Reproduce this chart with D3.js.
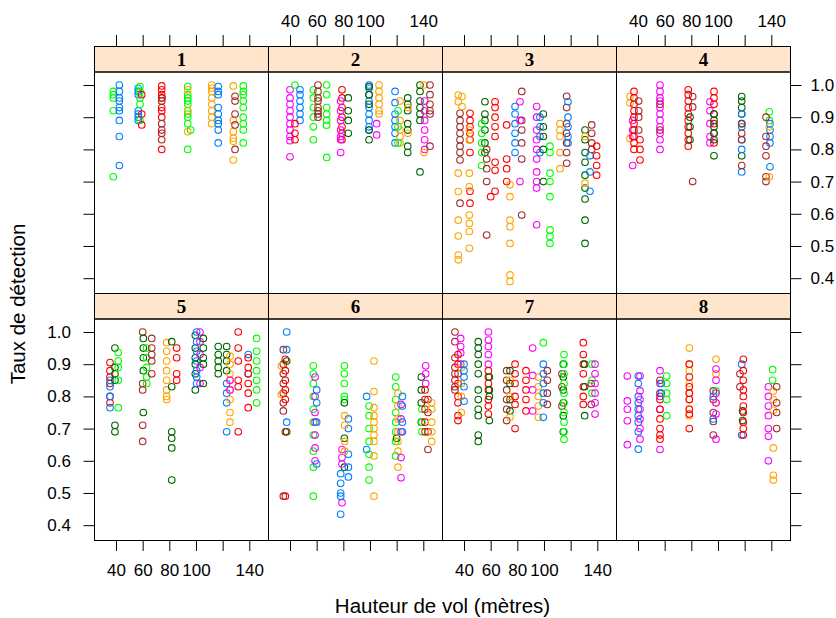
<!DOCTYPE html>
<html>
<head>
<meta charset="utf-8">
<script src="https://cdnjs.cloudflare.com/ajax/libs/d3/7.8.5/d3.min.js"></script>
<style>
body { margin: 0; background: #fff; }
svg { display: block; }
text { font-family: "Liberation Sans", Arial, sans-serif; }
</style>
</head>
<body>
<div id="chart"></div>
<script>
// group index -> colour (lattice superpose.symbol)
var B = 0, M = 1, DG = 2, R = 3, O = 4, G = 5, BR = 6;
var groupColors = ["#0080ff", "#ff00ff", "#006400", "#ff0000", "#ffa500", "#00ff00", "#a52a2a"];

var panelNames = ["1", "2", "3", "4", "5", "6", "7", "8"];
var xTicks = [40, 60, 80, 100, 120, 140];
var xTickLabels = ["40", "60", "80", "100", "", "140"];
var yTicks = [0.4, 0.5, 0.6, 0.7, 0.8, 0.9, 1.0];
var xTitle = "Hauteur de vol (mètres)";
var yTitle = "Taux de détection";

// each series: [hauteur, groupe, [taux...]]
var panel1 = [
  [38, G, [0.98, 0.97, 0.96, 0.92, 0.715]],
  [42.5, B, [1.0, 0.98, 0.96, 0.95, 0.93, 0.92, 0.89, 0.84, 0.75]],
  [56.7, B, [0.99, 0.98, 0.97, 0.92, 0.91, 0.90, 0.89]],
  [58, G, [0.995, 0.98, 0.96, 0.94, 0.89]],
  [59.3, R, [0.97, 0.91, 0.876]],
  [74.3, R, [0.997, 0.985, 0.97, 0.96, 0.93, 0.92, 0.90, 0.85, 0.80]],
  [74.3, BR, [0.96, 0.95, 0.88, 0.86, 0.83]],
  [93.8, G, [0.995, 0.97, 0.96, 0.95, 0.94, 0.92, 0.91, 0.90, 0.88, 0.80]],
  [93.8, O, [0.985, 0.92, 0.855]],
  [96, G, [0.86]],
  [111.8, O, [1.0, 0.99, 0.98, 0.96, 0.94, 0.92, 0.90, 0.88]],
  [116.7, B, [0.995, 0.98, 0.97, 0.93, 0.91, 0.89, 0.88, 0.86, 0.82]],
  [128, O, [0.997, 0.89, 0.855, 0.835, 0.825, 0.767]],
  [129.3, BR, [0.965, 0.95, 0.91, 0.876, 0.80]],
  [135.5, G, [0.997, 0.98, 0.97, 0.95, 0.93, 0.90, 0.88, 0.86, 0.82]]
];

var panel2 = [
  [40, M, [0.985, 0.96, 0.94, 0.92, 0.90, 0.88, 0.86, 0.84, 0.827, 0.777]],
  [43.7, G, [1.0]],
  [47.5, B, [0.985, 0.97, 0.95, 0.93, 0.91, 0.89]],
  [43.7, R, [0.88, 0.85, 0.83]],
  [57.5, G, [0.985, 0.96, 0.93, 0.90, 0.87, 0.83]],
  [61, BR, [1.0, 0.98, 0.96, 0.95, 0.93, 0.92, 0.91, 0.90]],
  [67.5, G, [1.0, 0.97, 0.93, 0.91, 0.89, 0.875, 0.775]],
  [79, R, [0.985, 0.96, 0.93, 0.90, 0.87, 0.85, 0.83]],
  [78, M, [0.95, 0.92, 0.89, 0.86, 0.84, 0.83, 0.79]],
  [83.7, DG, [0.96, 0.92, 0.89, 0.85]],
  [99.3, B, [1.0, 0.99, 0.97, 0.95, 0.93, 0.91, 0.89, 0.87, 0.86]],
  [99.3, DG, [0.995, 0.97, 0.94, 0.86, 0.83]],
  [106.8, O, [1.0, 0.98, 0.96, 0.94, 0.92, 0.91]],
  [105, M, [0.88, 0.845]],
  [118.8, B, [0.98, 0.945, 0.91, 0.89, 0.87, 0.85, 0.82]],
  [122.5, O, [0.95, 0.89, 0.86, 0.84, 0.82]],
  [121, G, [0.92, 0.87, 0.82]],
  [128.3, DG, [0.96, 0.94, 0.92, 0.88, 0.86, 0.81, 0.79]],
  [128.5, O, [0.93, 0.85]],
  [137.5, DG, [1.0, 0.98, 0.95, 0.93, 0.91, 0.89, 0.73]],
  [141, M, [0.95, 0.92, 0.89, 0.86, 0.83, 0.80]],
  [140.5, O, [1.0, 0.79]],
  [145, BR, [1.0, 0.97, 0.94, 0.92, 0.91, 0.81]]
];

var panel3 = [
  [35.7, O, [0.969, 0.948, 0.726, 0.669, 0.58, 0.531, 0.472, 0.457]],
  [37, BR, [0.912, 0.89, 0.87, 0.85, 0.83, 0.81, 0.79, 0.767, 0.633]],
  [38.5, O, [0.964, 0.933]],
  [44.5, R, [0.912, 0.89, 0.87, 0.85, 0.83, 0.79, 0.67, 0.633]],
  [44, O, [0.86, 0.829, 0.726, 0.684, 0.596, 0.57, 0.545, 0.493]],
  [55.7, DG, [0.948, 0.91, 0.89, 0.86, 0.82, 0.79]],
  [53.3, G, [0.88, 0.85, 0.82, 0.79, 0.75]],
  [57, BR, [0.80, 0.77, 0.74, 0.70, 0.534]],
  [63.3, R, [0.948, 0.93, 0.90, 0.87, 0.84, 0.76, 0.735, 0.67]],
  [60, R, [0.653]],
  [72, R, [0.876, 0.77, 0.74, 0.70]],
  [74.5, O, [0.69, 0.653, 0.58, 0.56, 0.508, 0.41, 0.39]],
  [78.3, B, [0.933, 0.91, 0.88, 0.85, 0.82, 0.79]],
  [83.3, BR, [0.98, 0.89, 0.86, 0.82, 0.77, 0.596]],
  [82, M, [0.948, 0.89, 0.70]],
  [94.5, M, [0.933, 0.90, 0.86, 0.83, 0.80, 0.77, 0.73, 0.70, 0.68, 0.566]],
  [97, B, [0.90, 0.87, 0.84, 0.79]],
  [99.5, DG, [0.91, 0.87, 0.84, 0.80, 0.70]],
  [104.5, G, [0.81, 0.79, 0.726, 0.70, 0.653, 0.55, 0.53, 0.508]],
  [112, O, [0.88, 0.86, 0.84, 0.79, 0.74]],
  [117, BR, [0.965, 0.93, 0.88, 0.85, 0.82, 0.79, 0.757]],
  [118, B, [0.948, 0.90, 0.87, 0.84, 0.82]],
  [130.8, DG, [0.86, 0.83, 0.79, 0.76, 0.72, 0.68, 0.646, 0.58, 0.508]],
  [130.8, O, [0.84, 0.695]],
  [135.8, BR, [0.876, 0.85, 0.82, 0.80]],
  [134.5, B, [0.78, 0.73, 0.67]],
  [139.5, R, [0.81, 0.78, 0.75, 0.72]]
];

var panel4 = [
  [34, O, [0.964, 0.944, 0.834]],
  [36, M, [0.89, 0.86, 0.84, 0.75]],
  [37, R, [0.98, 0.96, 0.94, 0.92, 0.90, 0.88, 0.86, 0.84, 0.82, 0.80]],
  [41.5, R, [0.83, 0.80, 0.767]],
  [40.5, BR, [0.95, 0.92, 0.90, 0.86]],
  [56.5, M, [1.0, 0.98, 0.96, 0.95, 0.93, 0.91, 0.89, 0.87, 0.85, 0.83, 0.80]],
  [56.5, BR, [0.94, 0.86]],
  [77.7, R, [0.985, 0.97, 0.95, 0.93, 0.91, 0.89, 0.87, 0.85, 0.83, 0.81]],
  [79, DG, [0.90, 0.87, 0.83]],
  [81, BR, [0.964, 0.932, 0.70]],
  [94, M, [0.948, 0.92, 0.88, 0.84, 0.82]],
  [97, R, [0.98, 0.96, 0.94, 0.91, 0.88, 0.85, 0.82]],
  [97, DG, [0.91, 0.89, 0.87, 0.85, 0.83, 0.78]],
  [117.8, DG, [0.964, 0.95, 0.93, 0.91, 0.88, 0.78]],
  [117.8, B, [0.91, 0.87, 0.83, 0.80, 0.73]],
  [117.8, BR, [0.88, 0.85, 0.83, 0.75]],
  [138.5, G, [0.917, 0.89]],
  [139, B, [0.88, 0.86, 0.84, 0.82, 0.746]],
  [136, BR, [0.90, 0.84, 0.81, 0.78, 0.715, 0.70]],
  [138.5, O, [0.87, 0.715]]
];

var panel5 = [
  [35.5, R, [0.905, 0.88, 0.86, 0.84, 0.80, 0.78]],
  [35.5, B, [0.85, 0.83, 0.80, 0.765]],
  [39.2, DG, [0.95, 0.89, 0.87, 0.85, 0.71, 0.69]],
  [41.7, G, [0.936, 0.91, 0.89, 0.85, 0.765]],
  [60, BR, [1.0, 0.84, 0.82, 0.71, 0.66]],
  [60.5, DG, [0.98, 0.95, 0.92, 0.88, 0.75]],
  [63, G, [0.95, 0.92, 0.89, 0.86, 0.84]],
  [66.8, BR, [0.98, 0.95, 0.93, 0.91, 0.87]],
  [78, O, [0.967, 0.94, 0.91, 0.88, 0.85, 0.82, 0.80, 0.79]],
  [81.8, DG, [0.97, 0.83, 0.69, 0.67, 0.64, 0.54]],
  [85.5, R, [0.95, 0.92, 0.87, 0.85]],
  [99.5, DG, [0.99, 0.95, 0.92, 0.90, 0.87, 0.82]],
  [100.5, B, [1.0, 0.97, 0.94, 0.91, 0.88, 0.86, 0.84]],
  [103, M, [1.0, 0.97, 0.93, 0.89, 0.84]],
  [105.5, DG, [0.98, 0.95, 0.92, 0.90, 0.84]],
  [116.7, DG, [0.955, 0.93, 0.91, 0.89, 0.87]],
  [123, DG, [0.955, 0.93, 0.91, 0.88]],
  [123, B, [0.84, 0.81, 0.78, 0.69]],
  [125.5, O, [0.925, 0.90, 0.87, 0.85, 0.82, 0.79, 0.75, 0.72]],
  [125.5, M, [0.85, 0.82]],
  [131.7, R, [1.0, 0.95, 0.91, 0.85, 0.83, 0.69]],
  [139.2, B, [0.93, 0.87]],
  [139.2, R, [0.92, 0.89, 0.87, 0.84, 0.81, 0.765]],
  [145.5, G, [0.98, 0.94, 0.91, 0.88, 0.85, 0.82, 0.78]]
];

var panel6 = [
  [35, BR, [0.945, 0.90, 0.87, 0.84, 0.81, 0.78, 0.755, 0.49]],
  [33.5, O, [0.895, 0.806]],
  [36.5, R, [0.915, 0.88, 0.85, 0.82, 0.79, 0.69, 0.49]],
  [37.5, DG, [0.91, 0.69]],
  [37.5, B, [1.0, 0.945, 0.72]],
  [57.5, G, [0.895, 0.87, 0.84, 0.80, 0.76, 0.72, 0.68, 0.63, 0.58, 0.49]],
  [58.8, M, [0.86, 0.80, 0.75, 0.72, 0.68, 0.64, 0.60]],
  [60, B, [0.82, 0.78, 0.72, 0.59]],
  [80.8, G, [0.895, 0.87, 0.84, 0.80, 0.79]],
  [80.8, DG, [0.78, 0.67, 0.58]],
  [79, M, [0.635, 0.61, 0.59, 0.47]],
  [78, B, [0.56, 0.53, 0.50, 0.49, 0.434]],
  [83.8, B, [0.73, 0.70, 0.62, 0.58, 0.55]],
  [81, O, [0.74, 0.71, 0.66, 0.63]],
  [97.5, B, [0.80, 0.635]],
  [99.3, G, [0.77, 0.74, 0.70, 0.66, 0.62, 0.58, 0.54]],
  [103, O, [0.91, 0.815, 0.765, 0.74, 0.72, 0.70, 0.68, 0.66, 0.615, 0.49]],
  [119.3, G, [0.86, 0.83, 0.79, 0.75, 0.72, 0.69, 0.66, 0.615]],
  [120, DG, [0.67]],
  [121, O, [0.81, 0.77, 0.73, 0.69, 0.66, 0.63, 0.58]],
  [123.3, M, [0.775, 0.73, 0.69, 0.61, 0.547]],
  [124.3, B, [0.80, 0.77, 0.72, 0.69]],
  [138.5, DG, [0.86, 0.82, 0.78, 0.72]],
  [139, G, [0.76, 0.72, 0.69]],
  [141.8, M, [0.895, 0.87, 0.84]],
  [141.3, R, [0.82, 0.79, 0.76, 0.72, 0.69]],
  [143.5, BR, [0.79, 0.75, 0.69, 0.635]],
  [146.3, O, [0.78, 0.76, 0.72, 0.69, 0.66]]
];

var panel7 = [
  [33.2, BR, [1.0, 0.97, 0.92, 0.89, 0.87, 0.85, 0.83, 0.82]],
  [37.5, M, [0.98, 0.955, 0.935, 0.90]],
  [35.5, R, [0.93, 0.90, 0.87, 0.84, 0.80, 0.78, 0.74, 0.725]],
  [38, O, [0.89, 0.84, 0.80, 0.75]],
  [40, B, [0.90, 0.88, 0.86, 0.83, 0.785]],
  [50.7, DG, [0.97, 0.95, 0.93, 0.90, 0.87, 0.82, 0.79, 0.76, 0.74, 0.68, 0.66]],
  [58.3, M, [1.0, 0.975, 0.955, 0.93, 0.90]],
  [58.3, R, [0.88, 0.86, 0.84, 0.82, 0.79, 0.77, 0.745]],
  [59, DG, [0.86, 0.82, 0.80, 0.725]],
  [72, BR, [0.88, 0.85, 0.82, 0.79, 0.76, 0.725]],
  [74.5, DG, [0.88, 0.84, 0.79, 0.755]],
  [74.5, O, [0.85, 0.80, 0.735]],
  [78.3, R, [0.90, 0.87, 0.84, 0.80, 0.775, 0.70]],
  [86.5, R, [0.88, 0.85, 0.82, 0.79, 0.755]],
  [91.5, M, [0.95, 0.865, 0.82, 0.755]],
  [95.8, O, [0.86, 0.83, 0.80, 0.77, 0.735]],
  [99.5, G, [0.967]],
  [99.5, B, [0.90, 0.87, 0.84, 0.81, 0.78, 0.735]],
  [102.5, BR, [0.88, 0.85, 0.81, 0.775]],
  [113.5, BR, [0.87, 0.83, 0.77]],
  [114.5, DG, [0.90, 0.86, 0.82, 0.78, 0.74, 0.69]],
  [115, G, [0.93, 0.90, 0.87, 0.84, 0.81, 0.78, 0.75, 0.72, 0.69, 0.667]],
  [129.5, R, [0.967, 0.93, 0.90, 0.87, 0.83, 0.80, 0.775]],
  [130.5, DG, [0.90, 0.83, 0.74]],
  [135.5, BR, [0.84, 0.775]],
  [136, G, [0.90, 0.85, 0.81]],
  [138.3, M, [0.90, 0.87, 0.84, 0.81, 0.78, 0.745]]
];

var panel8 = [
  [32, M, [0.863, 0.786, 0.76, 0.724, 0.65]],
  [40.2, B, [0.863, 0.84, 0.80, 0.78, 0.76, 0.74, 0.72, 0.69, 0.636]],
  [41.5, M, [0.863, 0.817, 0.79, 0.76, 0.73, 0.70, 0.667]],
  [56.5, M, [0.88, 0.84, 0.80, 0.76, 0.635]],
  [56.5, R, [0.79, 0.76, 0.73, 0.70, 0.68, 0.667]],
  [56.5, BR, [0.85, 0.81]],
  [57.5, B, [0.84, 0.81]],
  [61.5, G, [0.863, 0.84, 0.81, 0.79, 0.74]],
  [78.5, O, [0.95, 0.90, 0.88, 0.84, 0.81, 0.79, 0.76, 0.74]],
  [78.5, R, [0.90, 0.86, 0.83, 0.81, 0.79, 0.76, 0.745, 0.70]],
  [96.5, BR, [0.817, 0.79, 0.75, 0.722, 0.68]],
  [96.5, B, [0.80, 0.73]],
  [98.5, G, [0.817]],
  [98.5, O, [0.915, 0.87, 0.78]],
  [98.5, M, [0.885, 0.85, 0.81, 0.78, 0.745, 0.667]],
  [116.5, BR, [0.87, 0.83]],
  [117.8, B, [0.90, 0.68]],
  [118.5, DG, [0.755, 0.725]],
  [119, R, [0.915, 0.88, 0.85, 0.82, 0.80, 0.77, 0.75, 0.72, 0.70, 0.68]],
  [137.8, M, [0.83, 0.80, 0.77, 0.74, 0.70, 0.676, 0.60]],
  [141, G, [0.883, 0.85]],
  [141.5, O, [0.817, 0.79, 0.757, 0.64, 0.555, 0.54]],
  [144, BR, [0.83, 0.78, 0.75, 0.70]]
];

var panels = [panel1, panel2, panel3, panel4, panel5, panel6, panel7, panel8];

var W = 836, H = 618;
var panelW = 174, panelH = 221.5, stripH = 25.5;
var left0 = 94.5;
var rowTop = [72, 319];

var svg = d3.select("#chart").append("svg")
  .attr("width", W)
  .attr("height", H);

var x = d3.scaleLinear().domain([23.87, 154.4]).range([0, panelW]);
var y = d3.scaleLinear().domain([0.3524, 1.0404]).range([panelH, 0]);

var fmtX = function(d, i) { return xTickLabels[i]; };
var fmtY = d3.format(".1f");
var noLabel = function() { return ""; };

panels.forEach(function(series, p) {
  var col = p % 4, row = Math.floor(p / 4);
  var px = left0 + col * panelW, py = rowTop[row];

  var g = svg.append("g").attr("transform", "translate(" + px + "," + py + ")");

  // strip
  g.append("rect")
    .attr("x", 0).attr("y", -stripH)
    .attr("width", panelW).attr("height", stripH)
    .attr("fill", "#ffe5cc")
    .attr("stroke", "#000").attr("stroke-width", 1);
  g.append("text")
    .attr("x", panelW / 2).attr("y", -stripH / 2)
    .attr("dy", "0.36em")
    .attr("text-anchor", "middle")
    .style("font-family", "'Liberation Serif', 'Times New Roman', serif")
    .style("font-weight", "bold")
    .style("font-size", "19px")
    .text(panelNames[p]);

  // points
  series.forEach(function(s) {
    g.selectAll(null)
      .data(s[2])
      .enter().append("circle")
      .attr("cx", x(s[0]))
      .attr("cy", function(d) { return y(d); })
      .attr("r", 3.3)
      .attr("fill", "none")
      .attr("stroke", groupColors[s[1]])
      .attr("stroke-width", 1.1);
  });

  // panel frame
  g.append("rect")
    .attr("width", panelW).attr("height", panelH)
    .attr("fill", "none")
    .attr("stroke", "#000").attr("stroke-width", 1);

  // x axes: top on row 0, bottom on row 1; labels alternate
  if (row == 0) {
    var top = g.append("g").attr("transform", "translate(0," + (-stripH) + ")")
      .call(d3.axisTop(x).tickValues(xTicks).tickSize(11.5).tickPadding(8)
        .tickFormat(col % 2 == 1 ? fmtX : noLabel));
    styleAxis(top);
  } else {
    var bot = g.append("g").attr("transform", "translate(0," + panelH + ")")
      .call(d3.axisBottom(x).tickValues(xTicks).tickSize(10.5).tickPadding(13)
        .tickFormat(col % 2 == 0 ? fmtX : noLabel));
    styleAxis(bot);
  }

  // y axes: left on col 0, right on col 3; labels alternate
  if (col == 0) {
    var la = g.append("g")
      .call(d3.axisLeft(y).tickValues(yTicks).tickSize(11).tickPadding(12.5)
        .tickFormat(row == 1 ? fmtY : noLabel));
    styleAxis(la);
  }
  if (col == 3) {
    var ra = g.append("g").attr("transform", "translate(" + panelW + ",0)")
      .call(d3.axisRight(y).tickValues(yTicks).tickSize(11).tickPadding(9)
        .tickFormat(row == 0 ? fmtY : noLabel));
    styleAxis(ra);
  }
});

function styleAxis(a) {
  a.select(".domain").remove();
  a.selectAll(".tick line").attr("stroke", "#000").attr("stroke-width", 1);
  a.selectAll(".tick text")
    .attr("fill", "#000")
    .style("font-family", "'Liberation Sans', Arial, sans-serif")
    .style("font-size", "17px");
}

// axis titles
svg.append("text")
  .attr("x", left0 + 2 * panelW)
  .attr("y", 613)
  .attr("text-anchor", "middle")
  .style("font-size", "20.5px")
  .text(xTitle);

svg.append("text")
  .attr("transform", "translate(25,304) rotate(-90)")
  .attr("text-anchor", "middle")
  .style("font-size", "20.5px")
  .text(yTitle);
</script>
</body>
</html>
